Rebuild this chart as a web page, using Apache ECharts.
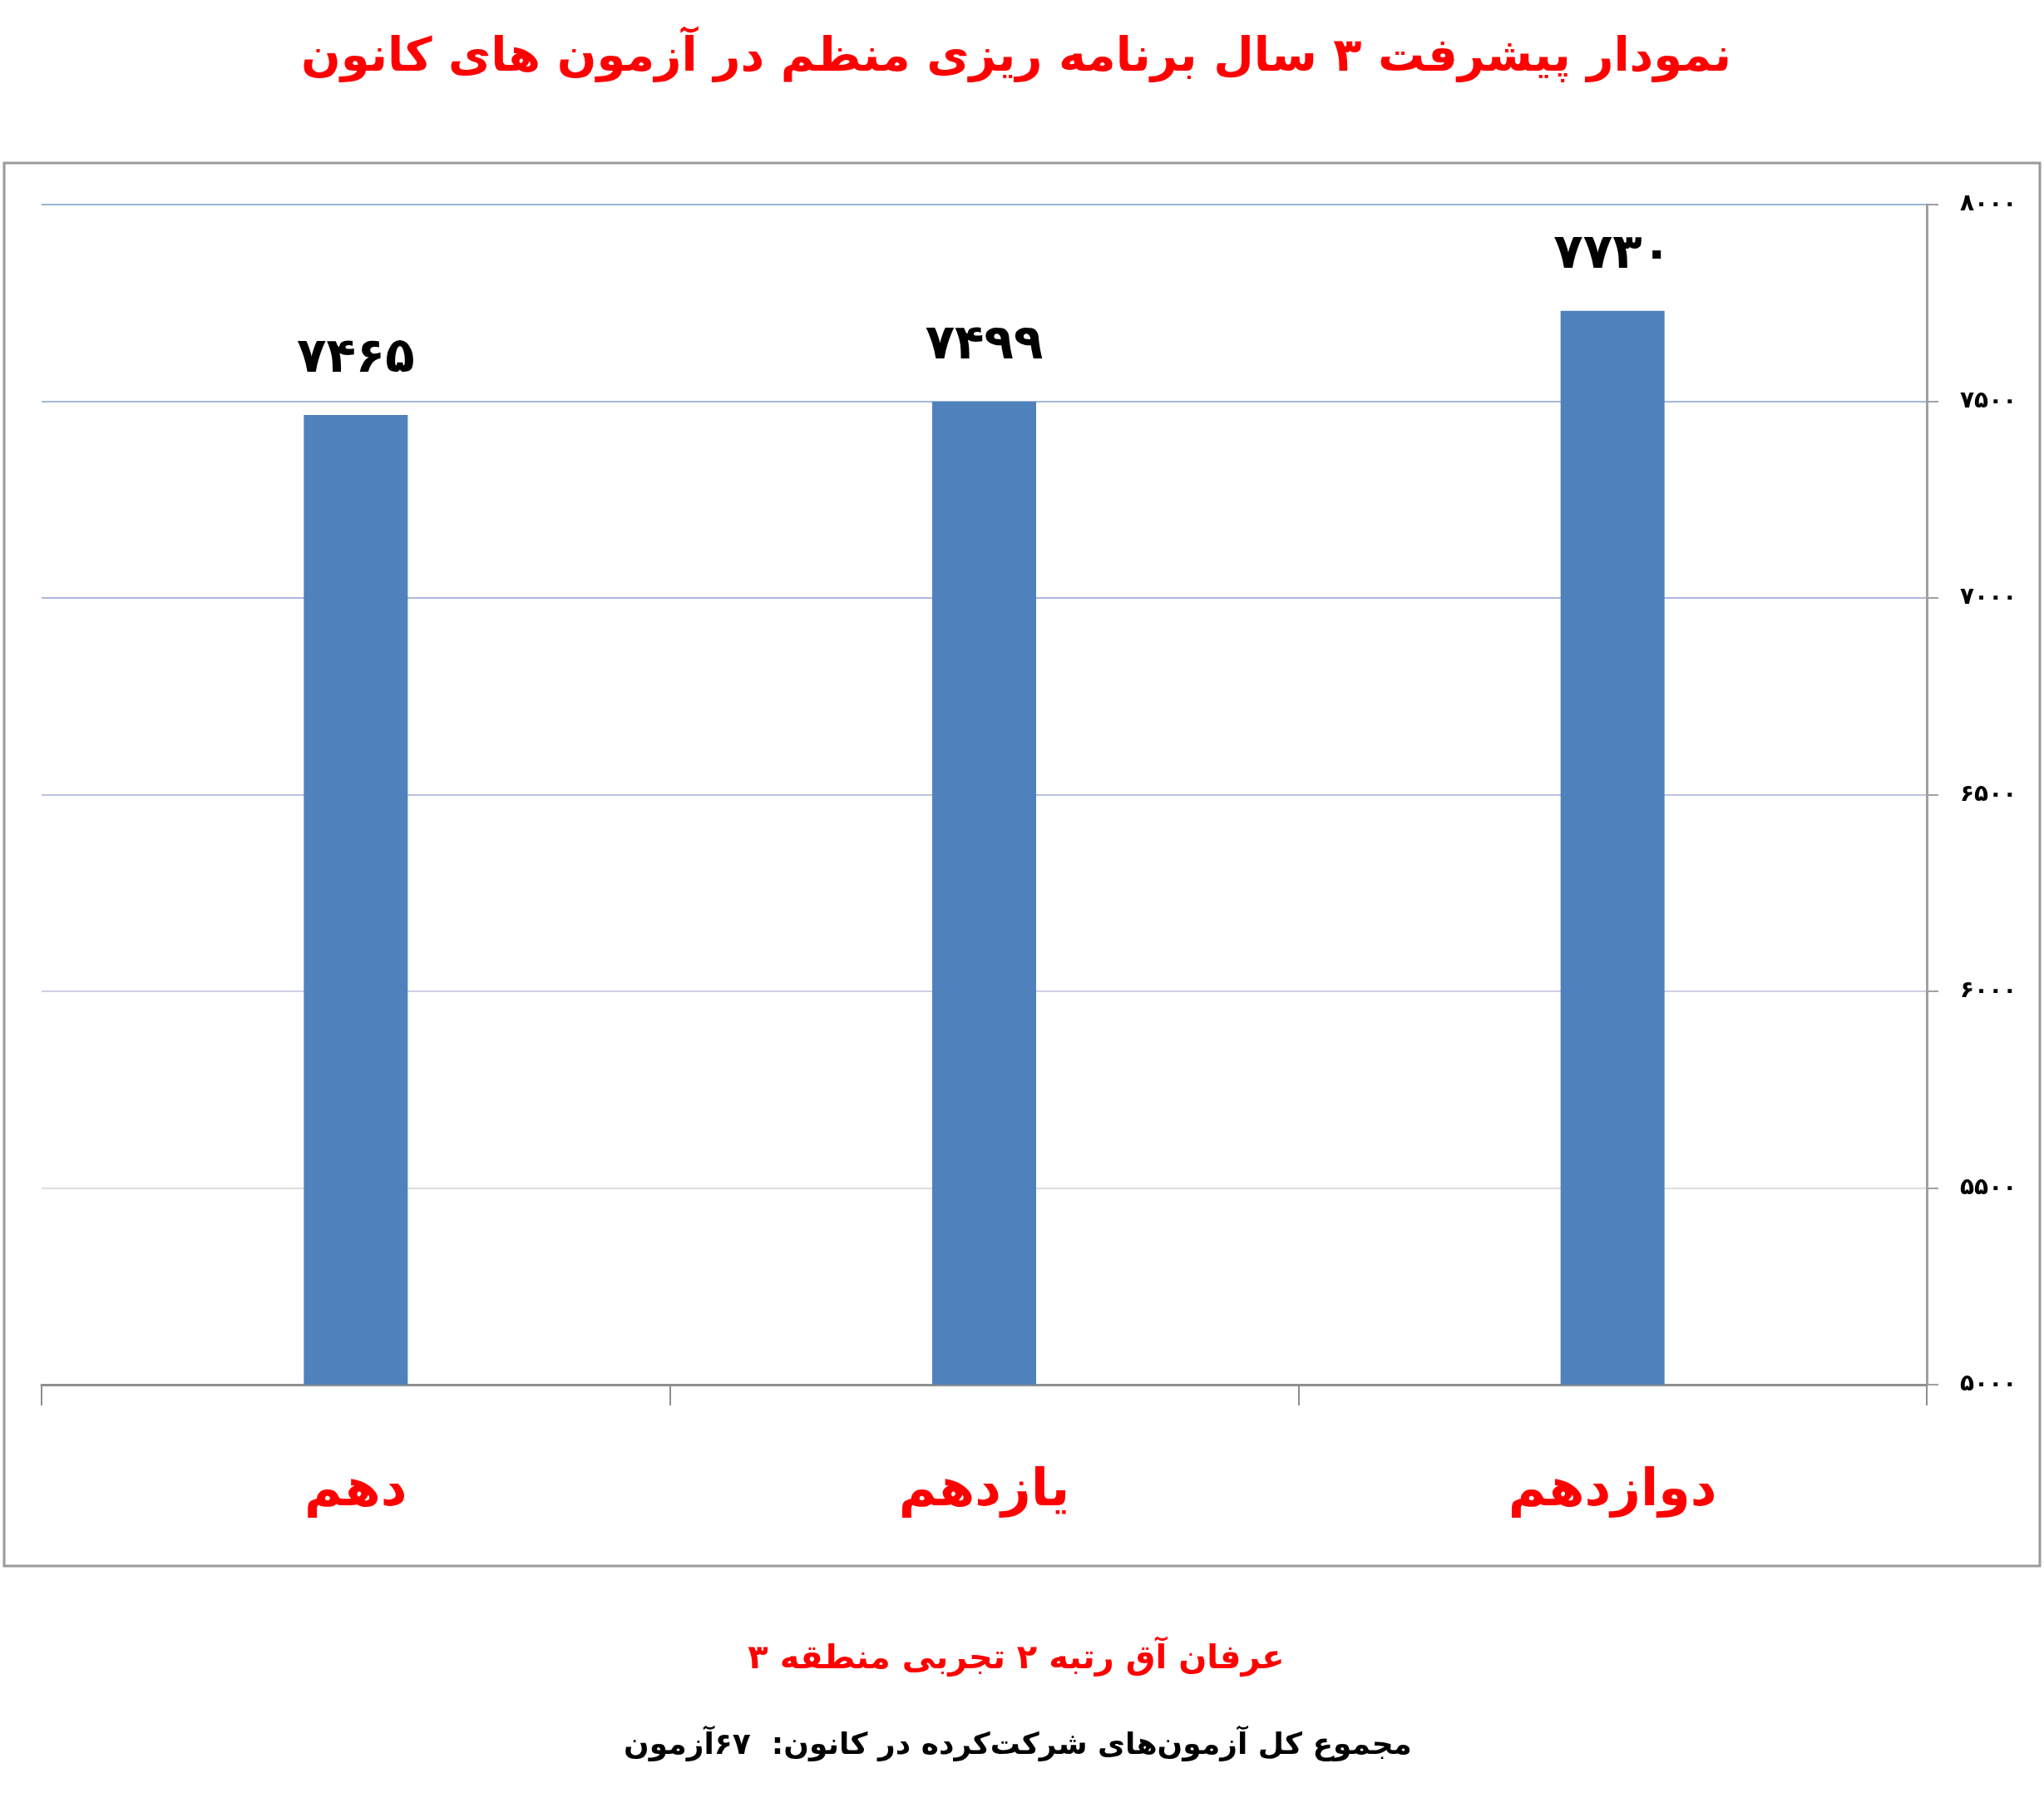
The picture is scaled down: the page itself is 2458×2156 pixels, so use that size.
<!DOCTYPE html>
<html>
<head>
<meta charset="utf-8">
<script src="https://cdn.jsdelivr.net/npm/echarts@6/dist/echarts.min.js"></script>
<style>
html,body{margin:0;padding:0;background:#fff;}
#chart{width:2458px;height:2156px;}
</style>
</head>
<body>
<div id="chart"></div>
<script>
// ---- data ----
const categories = ['دهم', 'یازدهم', 'دوازدهم'];
const scores = [7465, 7499, 7730];
const yMin = 5000, yMax = 8000, yStep = 500;
const titleText = 'نمودار پیشرفت ۳ سال برنامه ریزی منظم در آزمون های کانون';
const subText1 = 'عرفان آق رتبه ۲ تجربی منطقه ۳';
const subText2 = 'مجموع کل آزمون‌های شرکت‌کرده در کانون:  ۶۷آزمون';

const fa = v => String(v).replace(/\d/g, d => '۰۱۲۳۴۵۶۷۸۹'[d]);
const FONT = '"DejaVu Sans", sans-serif';

const chart = echarts.init(document.getElementById('chart'));
chart.setOption({
  backgroundColor: '#ffffff',
  animation: false,
  grid: { left: 50, right: 141, top: 246, bottom: 491, containLabel: false },
  xAxis: {
    type: 'category',
    data: categories,
    position: 'bottom',
    axisLine: { show: true, lineStyle: { color: '#8e8e8e', width: 3 } },
    axisTick: { show: true, length: 25, lineStyle: { color: '#8e8e8e', width: 2 } },
    axisLabel: { color: '#ff0000', fontSize: 62, fontWeight: 'bold', fontFamily: FONT, margin: 98 },
    splitLine: { show: false }
  },
  yAxis: {
    type: 'value',
    position: 'right',
    min: yMin, max: yMax, interval: yStep,
    axisLine: { show: true, lineStyle: { color: '#a0a0a0', width: 3 } },
    axisTick: { show: true, length: 14, lineStyle: { color: '#a0a0a0', width: 2 } },
    axisLabel: { color: '#000', fontSize: 28, fontWeight: 'bold', fontFamily: FONT, margin: 40, align: 'left', formatter: v => fa(v) },
    splitLine: { show: true, lineStyle: { width: 2, color: ['#d8d8d8', '#dedede', '#cdd0e4', '#bcc3e0', '#aeb8de', '#9fb8da', '#95b3d7'] } }
  },
  series: [{
    type: 'bar',
    data: scores,
    barWidth: 125,
    itemStyle: { color: '#4f81bd' },
    label: {
      show: true, position: 'top', distance: 38,
      color: '#000', fontSize: 58, fontWeight: 'bold', fontFamily: FONT,
      formatter: p => fa(p.value)
    }
  }],
  graphic: [
    { type: 'rect', silent: true, z: -1,
      shape: { x: 5, y: 196, width: 2448, height: 1687 },
      style: { fill: 'none', stroke: '#9a9a9a', lineWidth: 3 } },
    { type: 'text', x: 1222, y: 70,
      style: { text: titleText, fill: '#ff0000', font: 'bold 56px ' + FONT, textAlign: 'center', textVerticalAlign: 'middle' } },
    { type: 'text', x: 1222, y: 1996,
      style: { text: subText1, fill: '#ff0000', font: 'bold 40px ' + FONT, textAlign: 'center', textVerticalAlign: 'middle' } },
    { type: 'text', x: 1224, y: 2100,
      style: { text: subText2, fill: '#000000', font: 'bold 36px ' + FONT, textAlign: 'center', textVerticalAlign: 'middle' } }
  ]
});
</script>
</body>
</html>
